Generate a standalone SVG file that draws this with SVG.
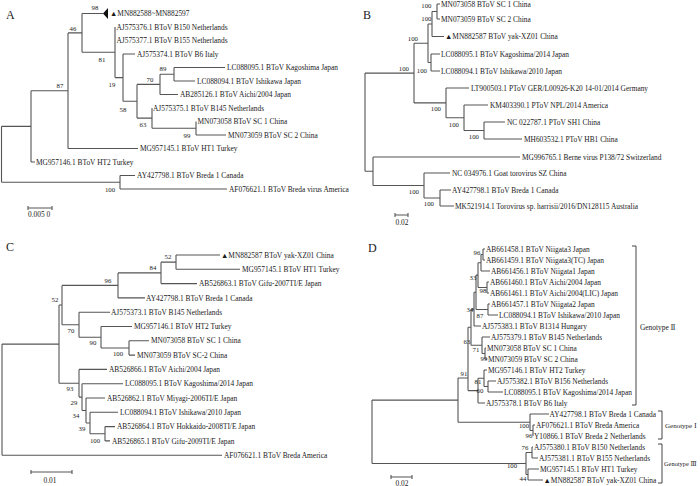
<svg xmlns="http://www.w3.org/2000/svg" width="700" height="486" viewBox="0 0 700 486">
<style>
.l{stroke:#555;stroke-width:1.1;fill:none}
.k{stroke:#444;stroke-width:1;fill:none}
text{font-family:'Liberation Serif','Noto Sans CJK SC',serif;fill:#1a1a1a}
.t{font-size:7.4px}
.g{font-size:7.4px;font-family:'Liberation Serif','DejaVu Serif','DejaVu Sans','Noto Sans CJK SC',serif}
.b{font-size:6.8px;text-anchor:middle}
.be{font-size:6.8px;text-anchor:end}
.p{font-size:12px}
.s{font-size:7.4px;text-anchor:middle}
</style>
<rect width="700" height="486" fill="#fff"/>

<!-- ===== Panel A ===== -->
<g id="panelA">
<text class="p" x="6" y="18.5">A</text>
<g id="A-connectors">
<path class="l" d="M1.5,126.35V182.25M1.5,126.35H31M1.5,182.25H120M31,90.7V162M31,90.7H68M31,162H35M68,32.9V148.5M68,32.9H82M68,148.5H138M82,13.5V52.3M82,13.5H103M82,52.3H115M115,27V77.6M115,77.6H123M123,54V101.25M123,54H135M123,101.25H137M137,84.4V118.1M137,84.4H160M137,118.1H152M160,74.25V94.5M160,74.25H174M160,94.5H178M174,67.5V81M174,67.5H225M174,81H195M152,108V128.25M152,128.25H196M196,121.5V135M196,135H226M120,175.5V189M120,175.5H135M120,189H227"/>
<path class="l" d="M28,208H52M28,206V210M52,206V210"/>
</g>
<polygon points="103,13.5 108,8 108,19" fill="#111"/>
<g id="A-n1"><text class="t" x="110" y="16.1">▲MN882588~MN882597</text></g>
<g id="A-n2"><text class="t" x="116.5" y="29.6">AJ575376.1 BToV B150 Netherlands</text></g>
<g id="A-n3"><text class="t" x="116.5" y="43.1">AJ575377.1 BToV B155 Netherlands</text></g>
<g id="A-n4"><text class="t" x="137" y="56.6">AJ575374.1 BToV B6 Italy</text></g>
<g id="A-n5"><text class="t" x="227" y="70.1">LC088095.1 BToV Kagoshima Japan</text></g>
<g id="A-n6"><text class="t" x="197" y="83.6">LC088094.1 BToV Ishikawa Japan</text></g>
<g id="A-n7"><text class="t" x="180" y="97.1">AB285126.1 BToV Aichi/2004 Japan</text></g>
<g id="A-n8"><text class="t" x="153" y="110.6">AJ575375.1 BToV B145 Netherlands</text></g>
<g id="A-n9"><text class="t" x="197.5" y="124.1">MN073058 BToV SC 1 China</text></g>
<g id="A-n10"><text class="t" x="228" y="137.6">MN073059 BToV SC 2 China</text></g>
<g id="A-n11"><text class="t" x="140" y="151.1">MG957145.1 BToV HT1 Turkey</text></g>
<g id="A-n12"><text class="t" x="36" y="164.6">MG957146.1 BToV HT2 Turkey</text></g>
<g id="A-n13"><text class="t" x="137" y="178.1">AY427798.1 BToV Breda 1 Canada</text></g>
<g id="A-n14"><text class="t" x="229" y="191.6">AF076621.1 BToV Breda virus America</text></g>
<g id="A-boot">
<text class="b" x="95" y="10.4">98</text>
<text class="b" x="73" y="31.4">46</text>
<text class="b" x="102" y="62.4">81</text>
<text class="b" x="112" y="87.4">19</text>
<text class="b" x="163" y="71.4">89</text>
<text class="b" x="150" y="82.4">70</text>
<text class="b" x="123" y="112.4">58</text>
<text class="b" x="143" y="127.4">63</text>
<text class="b" x="187" y="138.4">99</text>
<text class="b" x="60" y="88.4">87</text>
<text class="b" x="110" y="192.4">100</text>
</g>
<text class="t" x="28" y="217">0.005 0</text>
</g>

<!-- ===== Panel B ===== -->
<g id="panelB">
<text class="p" x="363" y="18.5">B</text>
<g id="B-connectors">
<path class="l" d="M365,73.1V171.25M365,73.1H414M365,171.25H373M414,43.25V102.9M414,43.25H428M414,102.9H446M428,24V62.5M428,24H432M428,62.5H431M432,11.5V36.5M432,11.5H437M432,36.5H444M437,4V19M437,4H440M437,19H440M431,54V71M431,54H440M431,71H440M446,88V117.75M446,88H469M446,117.75H464M464,105V130.5M464,105H488M464,130.5H484M484,122V139M484,122H505M484,139H522M373,157V185.5M373,157H520M373,185.5H424M424,173V198M424,173H450M424,198H440M440,190V206M440,190H451M440,206H454"/>
<path class="l" d="M395,215H408M395,213V217M408,213V217"/>
</g>
<g id="B-n1"><text class="t" x="441" y="6.6">MN073058 BToV SC 1 China</text></g>
<g id="B-n2"><text class="t" x="441" y="21.6">MN073059 BToV SC 2 China</text></g>
<g id="B-n3"><text class="t" x="445" y="39.1">▲MN882587 BToV yak-XZ01 China</text></g>
<g id="B-n4"><text class="t" x="441" y="56.6">LC088095.1 BToV Kagoshima/2014 Japan</text></g>
<g id="B-n5"><text class="t" x="441" y="73.6">LC088094.1 BToV Ishikawa/2010 Japan</text></g>
<g id="B-n6"><text class="t" x="471" y="90.6">LT900503.1 PToV GER/L00926-K20 14-01/2014 Germany</text></g>
<g id="B-n7"><text class="t" x="490" y="107.6">KM403390.1 PToV NPL/2014 America</text></g>
<g id="B-n8"><text class="t" x="507" y="124.6">NC 022787.1 PToV SH1 China</text></g>
<g id="B-n9"><text class="t" x="524" y="141.6">MH603532.1 PToV HB1 China</text></g>
<g id="B-n10"><text class="t" x="522" y="159.6">MG996765.1 Berne virus P138/72 Switzerland</text></g>
<g id="B-n11"><text class="t" x="452" y="175.6">NC 034976.1 Goat torovirus SZ China</text></g>
<g id="B-n12"><text class="t" x="452" y="192.6">AY427798.1 BToV Breda 1 Canada</text></g>
<g id="B-n13"><text class="t" x="455" y="208.6">MK521914.1 Torovirus sp. harrisii/2016/DN128115 Australia</text></g>
<g id="B-boot">
<text class="be" x="431.5" y="8.4">100</text>
<text class="be" x="431.5" y="21.4">100</text>
<text class="be" x="418" y="41.4">100</text>
<text class="be" x="409" y="71.4">100</text>
<text class="be" x="427" y="73.4">100</text>
<text class="be" x="441" y="111.4">100</text>
<text class="be" x="459" y="127.4">100</text>
<text class="be" x="479" y="139.4">100</text>
<text class="be" x="419" y="194.4">100</text>
<text class="be" x="434" y="206.4">100</text>
</g>
<text class="s" x="402" y="224.5">0.02</text>
</g>

<!-- ===== Panel C ===== -->
<g id="panelC">
<text class="p" x="6" y="251">C</text>
<g id="C-connectors">
<path class="l" d="M2,344.1V455.2M2,344.1H59M2,455.2H222M59,305V383.2M59,305H62M59,383.2H79M62,285.4V324.7M62,285.4H118M62,324.7H79M118,272.9V297.9M118,272.9H161M118,297.9H145M161,262.15V283.6M161,262.15H176M161,283.6H197M176,255V269.3M176,255H220M176,269.3H240M79,312.2V337.2M79,312.2H110M79,337.2H101M101,326.5V348M101,326.5H132M101,348H129M129,340.8V355.1M129,340.8H149M129,355.1H135M79,369.4V397.1M79,369.4H107M79,397.1H82M82,383.7V410.5M82,383.7H123M82,410.5H86M86,398V423M86,398H105M86,423H90M90,412.3V433.8M90,412.3H118M90,433.8H105M105,426.6V440.9M105,426.6H115M105,440.9H110"/>
<path class="l" d="M31,472H72M31,470V474M72,470V474"/>
</g>
<g id="C-n1"><text class="t" x="221" y="257.6">▲MN882587 BToV yak-XZ01 China</text></g>
<g id="C-n2"><text class="t" x="242" y="271.9">MG957145.1 BToV HT1 Turkey</text></g>
<g id="C-n3"><text class="t" x="199" y="286.2">AB526863.1 BToV Gifu-2007TI/E Japan</text></g>
<g id="C-n4"><text class="t" x="146" y="300.5">AY427798.1 BToV Breda 1 Canada</text></g>
<g id="C-n5"><text class="t" x="111" y="314.8">AJ575373.1 BToV B145 Netherlands</text></g>
<g id="C-n6"><text class="t" x="134" y="329.1">MG957146.1 BToV HT2 Turkey</text></g>
<g id="C-n7"><text class="t" x="151" y="343.4">MN073058 BToV SC 1 China</text></g>
<g id="C-n8"><text class="t" x="137" y="357.7">MN073059 BToV SC-2 China</text></g>
<g id="C-n9"><text class="t" x="109" y="372">AB526866.1 BToV Aichi/2004 Japan</text></g>
<g id="C-n10"><text class="t" x="125" y="386.3">LC088095.1 BToV Kagoshima/2014 Japan</text></g>
<g id="C-n11"><text class="t" x="107" y="400.6">AB526862.1 BToV Miyagi-2006TI/E Japan</text></g>
<g id="C-n12"><text class="t" x="120" y="414.9">LC088094.1 BToV Ishikawa/2010 Japan</text></g>
<g id="C-n13"><text class="t" x="117" y="429.2">AB526864.1 BToV Hokkaido-2008TI/E Japan</text></g>
<g id="C-n14"><text class="t" x="112" y="443.5">AB526865.1 BToV Gifu-2009TI/E Japan</text></g>
<g id="C-n15"><text class="t" x="224" y="457.8">AF076621.1 BToV Breda America</text></g>
<g id="C-boot">
<text class="b" x="168" y="259.4">52</text>
<text class="b" x="153" y="270.4">84</text>
<text class="b" x="108" y="283.4">96</text>
<text class="b" x="55" y="302.4">52</text>
<text class="b" x="71" y="333.4">70</text>
<text class="b" x="93" y="345.4">90</text>
<text class="b" x="118" y="356.4">100</text>
<text class="b" x="70" y="391.4">93</text>
<text class="b" x="74" y="405.4">29</text>
<text class="b" x="76" y="418.4">34</text>
<text class="b" x="82" y="431.4">39</text>
<text class="b" x="95" y="443.4">100</text>
</g>
<text class="s" x="50" y="482.5">0.01</text>
</g>

<!-- ===== Panel D ===== -->
<g id="panelD">
<text class="p" x="368" y="252">D</text>
<g id="D-connectors">
<path class="l" d="M483,249V260M483,249H485M483,260H485M481,254.5V271M481,254.5H483M481,271H490M487,282V293M487,282H489M487,293H489M478,262.75V287.5M478,262.75H481M478,287.5H487M488,304V315M488,304H490M488,315H498M476,275.1V309.5M476,275.1H478M476,309.5H488M474,292.3V326M474,292.3H476M474,326H481M485,348V359M485,348H486M485,359H487M482,337V353.5M482,337H490M482,353.5H485M471,309.15V345.25M471,309.15H474M471,345.25H482M488,381V392M488,381H496M488,392H503M484,370V386.5M484,370H487M484,386.5H488M478,378.25V403M478,378.25H484M478,403H485M468,327.2V390.6M468,327.2H471M468,390.6H478M533,425V436M533,425H535M530,414V430.5M530,414H549M530,430.5H533M458,378V422.25M458,378H468M458,422.25H530M532,447V458M532,447H533M532,458H538M528,469V480M528,469H539M528,480H543M526,452.5V474.5M526,452.5H532M526,474.5H528M372,400.1V463.5M372,400.1H458M372,463.5H526"/>
<path class="l" d="M391,477H412M391,475V479M412,475V479"/>
<path class="k" d="M632,246H636V405H632M658,411H662V439H658M658,444H662V483H658"/>
</g>
<g id="D-n1"><text class="t" x="486" y="251.6">AB661458.1 BToV Niigata3 Japan</text></g>
<g id="D-n2"><text class="t" x="486" y="262.6">AB661459.1 BToV Niigata3(TC) Japan</text></g>
<g id="D-n3"><text class="t" x="491" y="273.6">AB661456.1 BToV Niigata1 Japan</text></g>
<g id="D-n4"><text class="t" x="490" y="284.6">AB661460.1 BToV Aichi/2004 Japan</text></g>
<g id="D-n5"><text class="t" x="490" y="295.6">AB661461.1 BToV Aichi/2004(LIC) Japan</text></g>
<g id="D-n6"><text class="t" x="491" y="306.6">AB661457.1 BToV Niigata2 Japan</text></g>
<g id="D-n7"><text class="t" x="499" y="317.6">LC088094.1 BToV Ishikawa/2010 Japan</text></g>
<g id="D-n8"><text class="t" x="482" y="328.6">AJ575383.1 BToV B1314 Hungary</text></g>
<g id="D-n9"><text class="t" x="491" y="339.6">AJ575379.1 BToV B145 Netherlands</text></g>
<g id="D-n10"><text class="t" x="487" y="350.6">MN073058 BToV SC 1 China</text></g>
<g id="D-n11"><text class="t" x="488" y="361.6">MN073059 BToV SC 2 China</text></g>
<g id="D-n12"><text class="t" x="488" y="372.6">MG957146.1 BToV HT2 Turkey</text></g>
<g id="D-n13"><text class="t" x="497" y="383.6">AJ575382.1 BToV B156 Netherlands</text></g>
<g id="D-n14"><text class="t" x="504" y="394.6">LC088095.1 BToV Kagoshima/2014 Japan</text></g>
<g id="D-n15"><text class="t" x="486" y="405.6">AJ575378.1 BToV B6 Italy</text></g>
<g id="D-n16"><text class="t" x="549.5" y="416.6">AY427798.1 BToV Breda 1 Canada</text></g>
<g id="D-n17"><text class="t" x="536" y="427.6">AF076621.1 BToV Breda America</text></g>
<g id="D-n18"><text class="t" x="534" y="438.6">Y10866.1 BToV Breda 2 Netherlands</text></g>
<g id="D-n19"><text class="t" x="534" y="449.6">AJ575380.1 BToV B150 Netherlands</text></g>
<g id="D-n20"><text class="t" x="539" y="460.6">AJ575381.1 BToV B155 Netherlands</text></g>
<g id="D-n21"><text class="t" x="540" y="471.6">MG957145.1 BToV HT1 Turkey</text></g>
<g id="D-n22"><text class="t" x="543.5" y="482.6">▲MN882587 BToV yak-XZ01 China</text></g>
<g id="D-boot">
<text class="b" x="477" y="255.4">96</text>
<text class="b" x="473" y="280.4">33</text>
<text class="b" x="483" y="293.4">98</text>
<text class="b" x="470" y="312.4">34</text>
<text class="b" x="480" y="318.4">87</text>
<text class="b" x="467" y="344.4">63</text>
<text class="b" x="476" y="352.4">71</text>
<text class="b" x="484" y="361.4">99</text>
<text class="b" x="464" y="376.4">91</text>
<text class="b" x="478" y="384.4">81</text>
<text class="b" x="480" y="393.4">60</text>
<text class="b" x="524" y="428.4">100</text>
<text class="b" x="529" y="438.4">96</text>
<text class="b" x="525" y="450.4">76</text>
<text class="b" x="512" y="468.4">100</text>
<text class="b" x="523" y="481.4">44</text>
</g>
<g id="D-genotypes">
<text class="g" x="640" y="329.6">Genotype Ⅱ</text>
<text class="g" x="665" y="427.6" style="font-size:7px">Genotype Ⅰ</text>
<text class="g" x="664" y="466" style="font-size:6.4px">Genotype Ⅲ</text>
</g>
<text class="s" x="402" y="485.5">0.02</text>
</g>
</svg>
